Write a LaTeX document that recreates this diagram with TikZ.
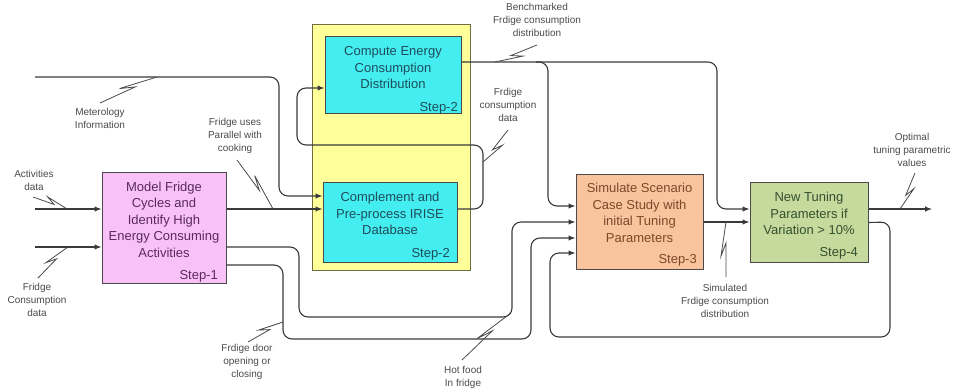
\documentclass[tikz,border=0pt]{standalone}
\usepackage{fontspec}
\setmainfont{Liberation Sans}
\usetikzlibrary{arrows.meta,calc}
\definecolor{ln}{HTML}{3A3A3A}
\definecolor{lbl}{HTML}{4A4A4A}
\definecolor{bd}{HTML}{4A4A4A}
\definecolor{ylwF}{HTML}{FFFF99}
\definecolor{ylwD}{HTML}{6E6E40}
\definecolor{pinkF}{HTML}{F8C2F8}
\definecolor{pinkT}{HTML}{5A2A5A}
\definecolor{cyanF}{HTML}{44EDF0}
\definecolor{cyanT}{HTML}{1F4D5A}
\definecolor{orF}{HTML}{F9C39E}
\definecolor{orT}{HTML}{7A4A2A}
\definecolor{grF}{HTML}{C6DA9E}
\definecolor{grT}{HTML}{34502E}
\newcommand\zz[2]{\draw[zig] (#1) -- ($(#1)!0.62!(#2)$) -- ($(#1)!0.38!(#2)!5pt!90:(#2)$) -- (#2);}
\begin{document}
\begin{tikzpicture}[x=1pt,y=-1pt,
  box/.style={draw=bd, line width=1pt, inner sep=0pt},
  btext/.style={align=center, font=\fontsize{13}{16.5}\selectfont, inner sep=0pt},
  steptext/.style={anchor=base east, font=\fontsize{13}{16}\selectfont, inner sep=0pt},
  lab/.style={align=center, text=lbl, font=\fontsize{10}{13}\selectfont, inner sep=0pt},
  conn/.style={draw=ln, line width=1.1pt, rounded corners=9pt},
  arr/.style={conn, -{Latex[length=7pt,width=5.5pt]}},
  zig/.style={draw=lbl, line width=0.8pt}]
\useasboundingbox (0,0) rectangle (955,390);
% boxes
\node[box, draw=ylwD, fill=ylwF, minimum width=158pt, minimum height=245pt] (yb) at (391,147.5) {};
\node[box, fill=pinkF, minimum width=124pt, minimum height=110pt] (pink) at (164,228) {};
\node[box, fill=cyanF, minimum width=136pt, minimum height=77pt] (b1) at (393,75.5) {};
\node[box, fill=cyanF, minimum width=134pt, minimum height=79pt] (b2) at (390,222.5) {};
\node[box, fill=orF, minimum width=127pt, minimum height=94pt] (or) at (639.5,222) {};
\node[box, fill=grF, minimum width=118pt, minimum height=79pt] (gr) at (809,222.5) {};
% box texts
\node[btext, text=pinkT] (pinkTx) at (164,219.5) {Model Fridge\\Cycles and\\Identify High\\Energy Consuming\\Activities};
\node[steptext, text=pinkT] (s1) at (218,279.5) {Step-1};
\node[btext, text=cyanT] (b1Tx) at (393,68) {Compute Energy\\Consumption\\Distribution};
\node[steptext, text=cyanT] (s2a) at (458,111.5) {Step-2};
\node[btext, text=cyanT] (b2Tx) at (390,213.5) {Complement and\\Pre-process IRISE\\Database};
\node[steptext, text=cyanT] (s2b) at (450,257.5) {Step-2};
\node[btext, text=orT] (orTx) at (639.5,213) {Simulate Scenario\\Case Study with\\initial Tuning\\Parameters};
\node[steptext, text=orT] (s3) at (697,263.5) {Step-3};
\node[btext, text=grT] (grTx) at (809,213.5) {New Tuning\\Parameters if\\Variation > 10\%};
\node[steptext, text=grT] (s4) at (858,256.5) {Step-4};
% free ends
\coordinate (in1) at (35,209);
\coordinate (in2) at (35,247);
\coordinate (met) at (35,77);
\coordinate (br) at (536,62);
\coordinate (outE) at (932,209);
% connectors
\draw[arr] (in1) -- (in1 -| pink.west);
\draw[arr] (in2) -- (in2 -| pink.west);
\draw[arr] (met) -- (279,77) -- (279,196) -- ([yshift=26.5pt]b2.west);
\draw[arr] ([yshift=19pt]pink.east) -- ([yshift=13.5pt]b2.west);
\draw[arr] ([yshift=13.5pt]b2.east) -- (483,209) -- (483,145) -- (297,145) -- (297,88) -- ([yshift=-12.5pt]b1.west);
\draw[arr] ([yshift=13.5pt]b1.east) -- (717,62) -- (717,209) -- ([yshift=13.5pt]gr.west);
\draw[arr] (br) -- (548,62) -- (548,206) -- ([yshift=16pt]or.west);
\draw[arr] ([yshift=-19pt]pink.east) -- (299,247) -- (299,317) -- (512,317) -- (512,222) -- (or.west);
\draw[arr] ([yshift=-37pt]pink.east) -- (283,265) -- (283,339) -- (531,339) -- (531,238) -- ([yshift=-16pt]or.west);
\draw[arr] (or.east) -- (or.east -| gr.west);
\draw[arr] ([yshift=13.5pt]gr.east) -- (outE);
\draw[arr] (gr.east) -- (890,222) -- (890,337) -- (550,337) -- (550,253) -- ([yshift=-31pt]or.west);
% labels
\node[lab] (lAct) at (34,180) {Activities\\data};
\node[lab] (lFc) at (37,300) {Fridge\\Consumption\\data};
\node[lab] (lMet) at (100,118.5) {Meterology\\Information};
\node[lab] (lPar) at (235,136) {Fridge uses\\Parallel with\\cooking};
\node[lab] (lBen) at (537,20) {Benchmarked\\Frdige consumption\\distribution};
\node[lab] (lFcd) at (508,105) {Frdige\\consumption\\data};
\node[lab] (lOpt) at (912,150) {Optimal\\tuning parametric\\values};
\node[lab] (lSim) at (725,301) {Simulated\\Frdige consumption\\distribution};
\node[lab] (lDoor) at (247,362) {Frdige door\\opening or\\closing};
\node[lab] (lHot) at (463,377) {Hot food\\In fridge};
% zigzag ends
\coordinate (z1a) at (33,197);  \coordinate (z1b) at (67,209);
\coordinate (z2a) at (38,278);  \coordinate (z2b) at (68,247);
\coordinate (z3a) at (100,103); \coordinate (z3b) at (157,77);
\coordinate (z4a) at (237,160); \coordinate (z4b) at (273,209);
\coordinate (z5a) at (537,45);  \coordinate (z5b) at (495,62);
\coordinate (z6a) at (508,130); \coordinate (z6b) at (483,162);
\coordinate (z7a) at (915,173); \coordinate (z7b) at (900,209);
\coordinate (z8a) at (726,277); \coordinate (z8b) at (726,222);
\coordinate (z9a) at (248,342); \coordinate (z9b) at (283,322);
\coordinate (z10a) at (462,360); \coordinate (z10b) at (511,313);
\zz{z1a}{z1b}
\zz{z2a}{z2b}
\zz{z3a}{z3b}
\zz{z4a}{z4b}
\zz{z5a}{z5b}
\zz{z6a}{z6b}
\zz{z7a}{z7b}
\zz{z8a}{z8b}
\zz{z9a}{z9b}
\zz{z10a}{z10b}
\end{tikzpicture}
\end{document}
